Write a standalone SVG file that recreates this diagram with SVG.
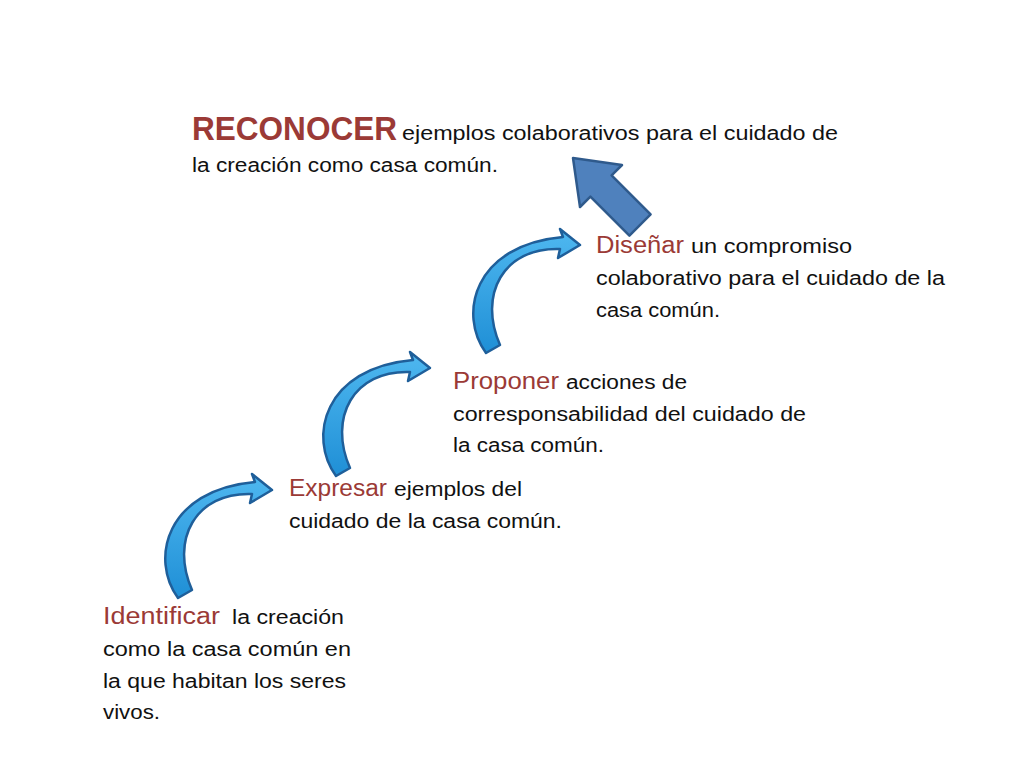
<svg xmlns="http://www.w3.org/2000/svg" width="1024" height="768" viewBox="0 0 1024 768">
<defs>
<linearGradient id="g" x1="0" y1="0" x2="0" y2="1"><stop offset="0" stop-color="#4fb8f0"/><stop offset="1" stop-color="#1f8fd6"/></linearGradient>
<path id="ca" d="M178,598 C150,560 165,490 255,482 L252,474 L272,490 L250,503 L252,494 C195,492 170,540 192,590 Z" fill="url(#g)" stroke="#1f5f9a" stroke-width="2.5" stroke-linejoin="round"/>
</defs>
<style>
text{font-family:"Liberation Sans",Arial,sans-serif;font-size:20px;fill:#111}
.r{fill:#9b3a36;font-size:23px}
.b{fill:#9b3a36;font-weight:bold;font-size:34px}
</style>
<rect width="1024" height="768" fill="#fff"/>
<g id="connectors">
<use href="#ca"/>
<use href="#ca" transform="translate(158,-122)"/>
<use href="#ca" transform="translate(308,-245)"/>
<polygon points="573,158 622,165 611.6,175.4 650.6,214.4 629.4,235.6 590.4,196.6 580,207" fill="#4f81bd" stroke="#2f5a8c" stroke-width="2.5" stroke-linejoin="round"/>
</g>
<g id="reconocer">
<text x="192" y="140" class="b" textLength="205" lengthAdjust="spacingAndGlyphs">RECONOCER</text>
<text x="402" y="140" textLength="436" lengthAdjust="spacingAndGlyphs">ejemplos colaborativos para el cuidado de</text>
<text x="192" y="172" textLength="306" lengthAdjust="spacingAndGlyphs">la creación como casa común.</text>
</g>
<g id="disenar">
<text x="596" y="253" class="r" textLength="88" lengthAdjust="spacingAndGlyphs">Diseñar</text>
<text x="691" y="253" textLength="161" lengthAdjust="spacingAndGlyphs">un compromiso</text>
<text x="596" y="285" textLength="349" lengthAdjust="spacingAndGlyphs">colaborativo para el cuidado de la</text>
<text x="596" y="317" textLength="124" lengthAdjust="spacingAndGlyphs">casa común.</text>
</g>
<g id="proponer">
<text x="453" y="389" class="r" textLength="106" lengthAdjust="spacingAndGlyphs">Proponer</text>
<text x="566" y="389" textLength="121" lengthAdjust="spacingAndGlyphs">acciones de</text>
<text x="453" y="421" textLength="353" lengthAdjust="spacingAndGlyphs">corresponsabilidad del cuidado de</text>
<text x="453" y="452" textLength="151" lengthAdjust="spacingAndGlyphs">la casa común.</text>
</g>
<g id="expresar">
<text x="289" y="496" class="r" textLength="98" lengthAdjust="spacingAndGlyphs">Expresar</text>
<text x="394" y="496" textLength="128" lengthAdjust="spacingAndGlyphs">ejemplos del</text>
<text x="289" y="528" textLength="273" lengthAdjust="spacingAndGlyphs">cuidado de la casa común.</text>
</g>
<g id="identificar">
<text x="103" y="624" class="r" textLength="117" lengthAdjust="spacingAndGlyphs">Identificar</text>
<text x="232" y="624" textLength="112" lengthAdjust="spacingAndGlyphs">la creación</text>
<text x="103" y="656" textLength="248" lengthAdjust="spacingAndGlyphs">como  la casa común en</text>
<text x="103" y="688" textLength="243" lengthAdjust="spacingAndGlyphs">la que habitan los seres</text>
<text x="103" y="719" textLength="57" lengthAdjust="spacingAndGlyphs">vivos.</text>
</g>
</svg>
